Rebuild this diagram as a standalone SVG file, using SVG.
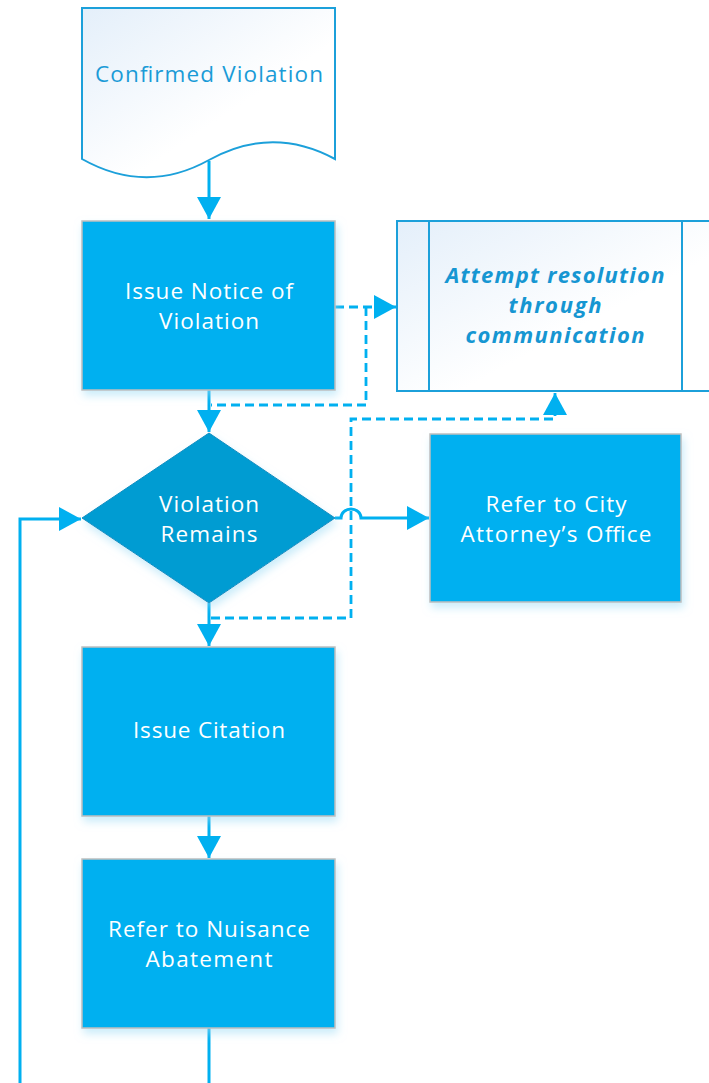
<svg xmlns="http://www.w3.org/2000/svg" width="709" height="1083" viewBox="0 0 709 1083">
<style>
.box{fill:#00B0F0;stroke:#BFBFBF;stroke-width:1.5}
.dia{fill:#009CD2;stroke:#0A8FC2;stroke-width:1}
.wt{font-family:"Open Sans","Liberation Sans",sans-serif;font-size:22.5px;fill:#FFFFFF;text-anchor:middle}
.bt{font-family:"Open Sans","Liberation Sans",sans-serif;font-size:22.5px;fill:#1A9BD7;text-anchor:middle}
.it{font-family:"Open Sans","Liberation Sans",sans-serif;font-size:22px;font-weight:bold;font-style:italic;fill:#1696D2;text-anchor:middle}
.sol{fill:none;stroke:#00B0F0;stroke-width:3}
.dsh{fill:none;stroke:#00B0F0;stroke-width:2.8;stroke-dasharray:9 5}
.ol{fill:url(#lg);stroke:#1CA0DA;stroke-width:2}
</style>
<defs>
<linearGradient id="lg" x1="0" y1="0" x2="1" y2="1">
<stop offset="0" stop-color="#E4EFFA"/>
<stop offset="0.6" stop-color="#FFFFFF"/>
</linearGradient>
<filter id="sh" x="-10%" y="-10%" width="125%" height="130%">
<feGaussianBlur in="SourceAlpha" stdDeviation="4"/>
<feOffset dx="2" dy="5" result="b"/>
<feFlood flood-color="#9FDDF6" flood-opacity="0.55"/>
<feComposite in2="b" operator="in"/>
<feMerge><feMergeNode/><feMergeNode in="SourceGraphic"/></feMerge>
</filter>
<marker id="ar" markerUnits="userSpaceOnUse" markerWidth="22" markerHeight="24" refX="22" refY="12" orient="auto">
<path d="M0,0 L22,12 L0,24 z" fill="#00B0F0"/>
</marker>
</defs>

<g id="connectors">
<path class="sol" d="M209,161 V219" marker-end="url(#ar)"/>
<path class="sol" d="M209,390 V432" marker-end="url(#ar)"/>
<path class="sol" d="M209,603 V646" marker-end="url(#ar)"/>
<path class="sol" d="M209,816 V858" marker-end="url(#ar)"/>
<path class="sol" d="M209,1028 V1083"/>
<path class="sol" d="M20,1083 V519 H81" marker-end="url(#ar)"/>
<path class="sol" d="M335,518 H341 A10,9 0 0 1 361,518 H429" marker-end="url(#ar)"/>
<path class="dsh" d="M335,307 H396" marker-end="url(#ar)"/>
<path class="dsh" d="M366,307 V405 H211"/>
<path class="dsh" d="M211,618 H351 V419 H555 V393" marker-end="url(#ar)"/>
</g>

<g id="confirmed-violation">
<path class="ol" d="M82,8 H335 V159 Q272,125 209,160 Q146,195 82,159 Z"/>
<text class="bt" x="209" y="82" textLength="228" lengthAdjust="spacing">Confirmed Violation</text>
</g>

<g id="issue-notice">
<rect class="box" x="82" y="221" width="253" height="169" filter="url(#sh)"/>
<text class="wt" x="209" y="299" textLength="168" lengthAdjust="spacing">Issue Notice of</text>
<text class="wt" x="209" y="329" textLength="100" lengthAdjust="spacing">Violation</text>
</g>

<g id="attempt-resolution">
<rect class="ol" x="397" y="221" width="317" height="170"/>
<line x1="429" y1="221" x2="429" y2="391" stroke="#1CA0DA" stroke-width="2"/>
<line x1="682" y1="221" x2="682" y2="391" stroke="#1CA0DA" stroke-width="2"/>
<text class="it" x="555" y="283" textLength="219" lengthAdjust="spacing">Attempt resolution</text>
<text class="it" x="555" y="313" textLength="93" lengthAdjust="spacing">through</text>
<text class="it" x="555" y="343" textLength="179" lengthAdjust="spacing">communication</text>
</g>

<g id="violation-remains">
<path class="dia" d="M209,433 L335,518 L209,603 L82,518 Z" filter="url(#sh)"/>
<text class="wt" x="209" y="512" textLength="100" lengthAdjust="spacing">Violation</text>
<text class="wt" x="209" y="542" textLength="97" lengthAdjust="spacing">Remains</text>
</g>

<g id="city-attorney">
<rect class="box" x="430" y="434" width="251" height="168" filter="url(#sh)"/>
<text class="wt" x="556" y="512" textLength="141" lengthAdjust="spacing">Refer to City</text>
<text class="wt" x="556" y="542" textLength="191" lengthAdjust="spacing">Attorney’s Office</text>
</g>

<g id="issue-citation">
<rect class="box" x="82" y="647" width="253" height="169" filter="url(#sh)"/>
<text class="wt" x="209" y="738" textLength="152" lengthAdjust="spacing">Issue Citation</text>
</g>

<g id="nuisance-abatement">
<rect class="box" x="82" y="859" width="253" height="169" filter="url(#sh)"/>
<text class="wt" x="209" y="937" textLength="202" lengthAdjust="spacing">Refer to Nuisance</text>
<text class="wt" x="209" y="967" textLength="127" lengthAdjust="spacing">Abatement</text>
</g>
</svg>
